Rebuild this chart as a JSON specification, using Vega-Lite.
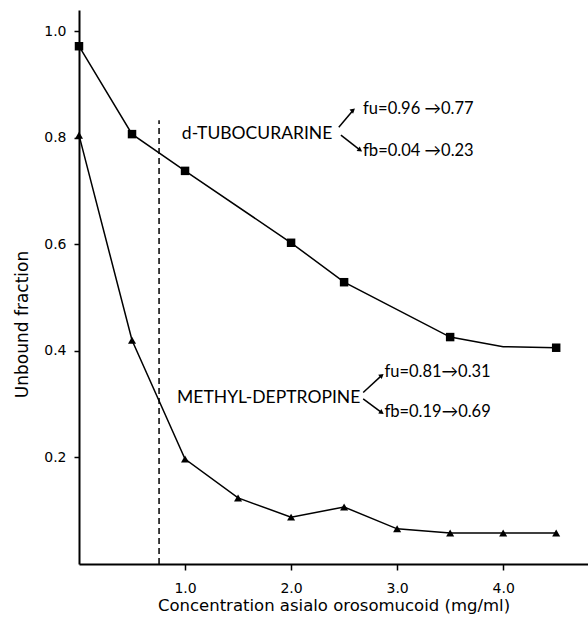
{
  "$schema": "https://vega.github.io/schema/vega-lite/v6.json",
  "width": 509,
  "height": 554,
  "autosize": {"type": "none"},
  "padding": {"left": 79, "top": 10, "right": 0, "bottom": 56},
  "background": "white",
  "config": {"view": {"stroke": null}},
  "datasets": {
    "series": [
      {"drug": "d-TUBOCURARINE", "conc": 0.0, "fu": 0.972, "measured": true},
      {"drug": "d-TUBOCURARINE", "conc": 0.5, "fu": 0.807, "measured": true},
      {"drug": "d-TUBOCURARINE", "conc": 1.0, "fu": 0.738, "measured": true},
      {"drug": "d-TUBOCURARINE", "conc": 2.0, "fu": 0.603, "measured": true},
      {"drug": "d-TUBOCURARINE", "conc": 2.5, "fu": 0.529, "measured": true},
      {"drug": "d-TUBOCURARINE", "conc": 3.5, "fu": 0.426, "measured": true},
      {"drug": "d-TUBOCURARINE", "conc": 4.0, "fu": 0.408, "measured": false},
      {"drug": "d-TUBOCURARINE", "conc": 4.5, "fu": 0.406, "measured": true},
      {"drug": "METHYL-DEPTROPINE", "conc": 0.0, "fu": 0.805, "measured": true},
      {"drug": "METHYL-DEPTROPINE", "conc": 0.5, "fu": 0.42, "measured": true},
      {"drug": "METHYL-DEPTROPINE", "conc": 1.0, "fu": 0.197, "measured": true},
      {"drug": "METHYL-DEPTROPINE", "conc": 1.5, "fu": 0.124, "measured": true},
      {"drug": "METHYL-DEPTROPINE", "conc": 2.0, "fu": 0.088, "measured": true},
      {"drug": "METHYL-DEPTROPINE", "conc": 2.5, "fu": 0.107, "measured": true},
      {"drug": "METHYL-DEPTROPINE", "conc": 3.0, "fu": 0.066, "measured": true},
      {"drug": "METHYL-DEPTROPINE", "conc": 3.5, "fu": 0.058, "measured": true},
      {"drug": "METHYL-DEPTROPINE", "conc": 4.0, "fu": 0.058, "measured": true},
      {"drug": "METHYL-DEPTROPINE", "conc": 4.5, "fu": 0.058, "measured": true}
    ],
    "marker": [
      {"conc": 0.755, "lo": 0, "hi": 0.833}
    ],
    "names": [
      {"text": "d-TUBOCURARINE", "conc": 0.97, "fu": 0.807},
      {"text": "METHYL-DEPTROPINE", "conc": 0.925, "fu": 0.311}
    ],
    "notes": [
      {"text": "fu=0.96 →0.77", "conc": 2.679, "fu": 0.854},
      {"text": "fb=0.04 →0.23", "conc": 2.679, "fu": 0.775},
      {"text": "fu=0.81→0.31", "conc": 2.88, "fu": 0.36},
      {"text": "fb=0.19→0.69", "conc": 2.88, "fu": 0.285}
    ],
    "arrows": [
      {"dir": "up", "x": 2.45, "y": 0.82, "x2": 2.585, "y2": 0.852},
      {"dir": "down", "x": 2.47, "y": 0.805, "x2": 2.651, "y2": 0.777},
      {"dir": "up", "x": 2.68, "y": 0.322, "x2": 2.855, "y2": 0.354},
      {"dir": "down", "x": 2.68, "y": 0.31, "x2": 2.855, "y2": 0.284}
    ]
  },
  "layer": [
    {
      "data": {"name": "marker"},
      "mark": {"type": "rule", "color": "black", "strokeWidth": 1.5, "strokeDash": [6, 4]},
      "encoding": {
        "x": {"field": "conc", "type": "quantitative", "scale": {"domain": [0, 4.8], "nice": false, "zero": false},
          "axis": {
            "title": "Concentration asialo orosomucoid (mg/ml)",
            "values": [1, 2, 3, 4],
            "format": ".1f",
            "grid": false,
            "domainColor": "black",
            "domainWidth": 2,
            "tickColor": "black",
            "tickWidth": 1.5,
            "tickSize": 6,
            "labelFont": "DejaVu Sans",
            "labelFontSize": 14,
            "labelColor": "black",
            "labelPadding": 11,
            "titleFont": "DejaVu Sans",
            "titleFontSize": 16.5,
            "titleFontWeight": "normal",
            "titleColor": "black",
            "titlePadding": 2
          }},
        "y": {"field": "lo", "type": "quantitative", "scale": {"domain": [0, 1.04], "nice": false, "zero": false},
          "axis": {
            "title": "Unbound fraction",
            "values": [0.2, 0.4, 0.6, 0.8, 1.0],
            "format": ".1f",
            "grid": false,
            "domainColor": "black",
            "domainWidth": 2,
            "tickColor": "black",
            "tickWidth": 1.5,
            "tickSize": 5,
            "labelFont": "DejaVu Sans",
            "labelFontSize": 14,
            "labelColor": "black",
            "labelPadding": 8,
            "titleFont": "DejaVu Sans",
            "titleFontSize": 17,
            "titleFontWeight": "normal",
            "titleColor": "black",
            "titlePadding": 12,
            "titleY": 314
          }},
        "y2": {"field": "hi"}
      }
    },
    {
      "data": {"name": "series"},
      "mark": {"type": "line", "color": "black", "strokeWidth": 1.5},
      "encoding": {
        "x": {"field": "conc", "type": "quantitative"},
        "y": {"field": "fu", "type": "quantitative"},
        "detail": {"field": "drug"}
      }
    },
    {
      "data": {"name": "series"},
      "transform": [{"filter": "datum.measured && datum.drug === 'd-TUBOCURARINE'"}],
      "mark": {"type": "point", "shape": "square", "filled": true, "color": "black", "size": 72, "opacity": 1},
      "encoding": {
        "x": {"field": "conc", "type": "quantitative"},
        "y": {"field": "fu", "type": "quantitative"}
      }
    },
    {
      "data": {"name": "series"},
      "transform": [{"filter": "datum.measured && datum.drug === 'METHYL-DEPTROPINE'"}],
      "mark": {"type": "point", "shape": "triangle-up", "filled": true, "color": "black", "size": 65, "opacity": 1},
      "encoding": {
        "x": {"field": "conc", "type": "quantitative"},
        "y": {"field": "fu", "type": "quantitative"}
      }
    },
    {
      "data": {"name": "names"},
      "mark": {"type": "text", "align": "left", "baseline": "middle", "font": "Lato", "fontSize": 17.5, "color": "black"},
      "encoding": {
        "x": {"field": "conc", "type": "quantitative"},
        "y": {"field": "fu", "type": "quantitative"},
        "text": {"field": "text"}
      }
    },
    {
      "data": {"name": "notes"},
      "mark": {"type": "text", "align": "left", "baseline": "middle", "font": "Lato", "fontSize": 16.5, "color": "black"},
      "encoding": {
        "x": {"field": "conc", "type": "quantitative"},
        "y": {"field": "fu", "type": "quantitative"},
        "text": {"field": "text"}
      }
    },
    {
      "data": {"name": "arrows"},
      "mark": {"type": "rule", "color": "black", "strokeWidth": 1.5},
      "encoding": {
        "x": {"field": "x", "type": "quantitative"},
        "y": {"field": "y", "type": "quantitative"},
        "x2": {"field": "x2"},
        "y2": {"field": "y2"}
      }
    },
    {
      "data": {"name": "arrows"},
      "transform": [{"filter": "datum.dir === 'up'"}],
      "mark": {"type": "point", "shape": "triangle-up", "filled": true, "color": "black", "size": 30, "opacity": 1, "angle": 50},
      "encoding": {
        "x": {"field": "x2", "type": "quantitative"},
        "y": {"field": "y2", "type": "quantitative"}
      }
    },
    {
      "data": {"name": "arrows"},
      "transform": [{"filter": "datum.dir === 'down'"}],
      "mark": {"type": "point", "shape": "triangle-up", "filled": true, "color": "black", "size": 30, "opacity": 1, "angle": 125},
      "encoding": {
        "x": {"field": "x2", "type": "quantitative"},
        "y": {"field": "y2", "type": "quantitative"}
      }
    }
  ]
}
